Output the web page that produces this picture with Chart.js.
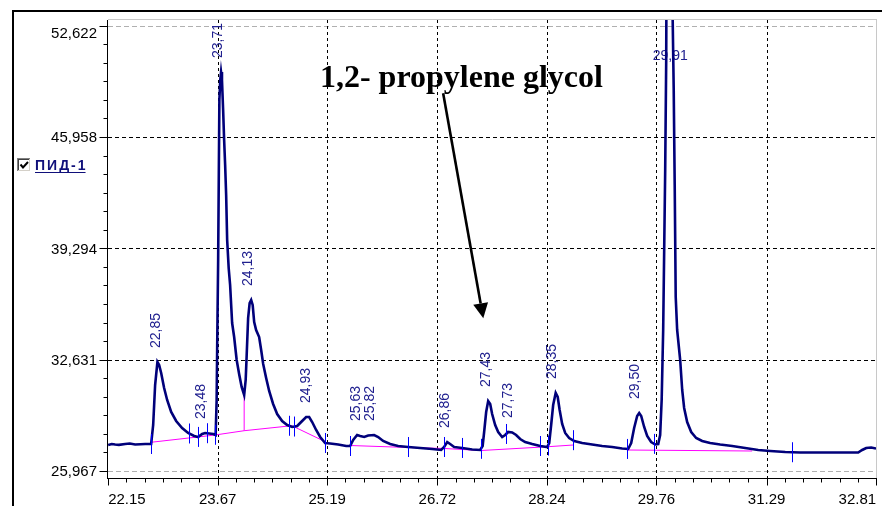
<!DOCTYPE html>
<html><head><meta charset="utf-8">
<script src="https://cdn.jsdelivr.net/npm/chart.js@4/dist/chart.umd.min.js"></script>
<style>html,body{margin:0;padding:0;background:#fff;overflow:hidden}#wrap{width:882px;height:506px;position:relative}</style>
</head><body><div id="wrap"><canvas id="c"></canvas></div>
<script>
// ---- data ----
const retentionTimes = [22.150,22.200,22.247,22.300,22.386,22.450,22.525,22.600,22.664,22.747,22.775,22.802,22.834,22.858,22.886,22.927,22.969,23.025,23.094,23.177,23.260,23.344,23.399,23.455,23.496,23.552,23.608,23.642,23.656,23.663,23.677,23.694,23.706,23.717,23.730,23.746,23.760,23.774,23.788,23.802,23.823,23.843,23.871,23.899,23.934,23.968,24.003,24.038,24.059,24.073,24.093,24.114,24.135,24.156,24.177,24.204,24.246,24.274,24.302,24.343,24.385,24.440,24.496,24.565,24.635,24.704,24.774,24.843,24.898,24.940,24.982,25.037,25.093,25.162,25.232,25.343,25.454,25.509,25.551,25.606,25.648,25.704,25.759,25.842,25.898,25.967,26.064,26.175,26.314,26.481,26.647,26.772,26.814,26.856,26.897,26.953,27.064,27.203,27.314,27.348,27.369,27.397,27.425,27.453,27.480,27.522,27.564,27.619,27.661,27.702,27.758,27.813,27.869,27.938,28.036,28.147,28.244,28.272,28.299,28.327,28.362,28.390,28.417,28.452,28.494,28.549,28.619,28.730,28.868,29.007,29.146,29.285,29.368,29.410,29.451,29.493,29.521,29.549,29.590,29.632,29.687,29.743,29.785,29.812,29.833,29.854,29.868,29.882,29.896,29.912,29.986,30.000,30.014,30.028,30.048,30.090,30.118,30.145,30.187,30.243,30.312,30.395,30.506,30.645,30.812,30.992,31.173,31.339,31.548,31.756,32.033,32.311,32.561,32.616,32.672,32.741,32.808];
const signal = [27.523,27.580,27.553,27.530,27.583,27.610,27.553,27.570,27.583,27.583,28.721,31.115,32.492,32.312,31.833,30.935,30.217,29.499,28.960,28.541,28.242,28.062,28.002,28.182,28.242,28.212,28.182,28.122,30.217,33.210,38.597,48.175,49.372,49.851,49.372,47.576,45.781,44.284,42.488,39.795,38.119,37.101,34.826,33.988,32.611,31.773,30.995,30.516,31.414,32.911,35.126,36.023,36.203,35.904,34.886,34.407,33.988,33.210,32.372,31.534,30.756,29.978,29.379,28.960,28.721,28.601,28.661,28.960,29.199,29.199,28.900,28.421,28.002,27.643,27.613,27.553,27.464,27.464,27.823,28.122,28.062,28.002,28.092,28.122,28.002,27.763,27.583,27.464,27.404,27.344,27.284,27.224,27.404,27.703,27.583,27.404,27.344,27.254,27.224,27.464,28.302,29.499,30.157,29.978,29.379,28.721,28.302,28.002,28.122,28.302,28.272,28.122,27.883,27.703,27.583,27.464,27.404,27.643,28.721,29.918,30.636,30.397,29.618,28.780,28.242,27.942,27.763,27.643,27.553,27.464,27.404,27.314,27.284,27.643,28.541,29.259,29.439,29.259,28.601,28.062,27.703,27.553,27.583,28.122,30.217,34.407,39.196,43.985,50.569,70.000,52.964,48.893,43.087,36.383,34.407,32.611,30.816,29.738,28.900,28.302,27.942,27.763,27.643,27.553,27.464,27.344,27.224,27.164,27.104,27.074,27.074,27.074,27.074,27.224,27.344,27.374,27.314];

// integration baseline (null = break)
const baselineTimes  = [22.743,23.635,24.038,24.700,25.162,25.163,25.509,26.314,26.814,27.328,28.258,28.605,28.606,29.354,31.089];
const baselineValues = [27.685,28.122,28.379,28.679,27.721,null,27.493,27.374,27.314,27.194,27.422,27.523,null,27.224,27.164];
const dropTimes  = [24.038,24.038];
const dropValues = [28.379,30.516];

const peakTimes   = [22.85,23.48,23.71,24.13,24.93,25.63,25.82,26.86,27.43,27.73,28.35,29.50,29.91];
const markerTimes = [22.743,23.274,23.395,23.520,23.635,24.662,24.736,25.162,25.509,26.318,26.814,27.060,27.324,27.675,28.147,28.254,28.600,29.358,29.729,31.649];

const xTicks = [22.15,23.67,25.19,26.72,28.24,29.76,31.29,32.81];
const yTicks = [25.967,32.631,39.294,45.958,52.622];
const xRange = [22.148,32.808];
const yRange = [25.548,52.964];

const legendLabel = 'ПИД-1';
const noteText = '1,2- propylene glycol';
const noteAt = [25.09,48.95];
const arrowFrom = [26.80,48.58];
const arrowTo = [27.357,35.11];

// ---- helpers ----
function curveAt(t){
  for(let i=1;i<retentionTimes.length;i++){
    if(retentionTimes[i]>=t){
      const t0=retentionTimes[i-1],t1=retentionTimes[i];
      const f=(t-t0)/(t1-t0);
      return signal[i-1]+f*(signal[i]-signal[i-1]);
    }
  }
  return signal[signal.length-1];
}
function localMax(t,w){
  let m=curveAt(t);
  for(let i=0;i<retentionTimes.length;i++) if(Math.abs(retentionTimes[i]-t)<=w) m=Math.max(m,signal[i]);
  return m;
}
const pts=(xs,ys)=>xs.map((v,i)=>({x:v,y:ys[i]}));
function line(ctx,x1,y1,x2,y2){ctx.beginPath();ctx.moveTo(x1,y1);ctx.lineTo(x2,y2);ctx.stroke();}

const chromPlugin={
  id:'chrom',
  beforeDatasetsDraw(chart){
    const {ctx,chartArea:a,scales:{x,y}}=chart;
    ctx.save();
    ctx.lineWidth=1;
    yTicks.forEach((v,i)=>{
      const py=Math.round(y.getPixelForValue(v))+0.5;
      const edge=(i===0||i===yTicks.length-1);
      ctx.strokeStyle=edge?'#b0b0b0':'#000';
      ctx.setLineDash(edge?[5,3]:[4,3]);
      line(ctx,a.left,py,a.right,py);
    });
    xTicks.forEach((v,i)=>{
      if(i===0||i===xTicks.length-1)return;
      const px=Math.round(x.getPixelForValue(v))+0.5;
      ctx.strokeStyle='#000';ctx.setLineDash([3,3]);
      line(ctx,px,a.top,px,a.bottom);
    });
    ctx.setLineDash([]);
    ctx.strokeStyle='#c8c8c8';
    line(ctx,a.left,a.top-0.5,a.right+1,a.top-0.5);
    line(ctx,a.right+0.5,a.top-0.5,a.right+0.5,a.bottom);
    ctx.fillStyle='#20208f';ctx.font='14px "Liberation Sans", Arial, sans-serif';
    peakTimes.forEach(t=>{
      const px=x.getPixelForValue(t);
      const m=localMax(t,0.04);
      const txt=t.toFixed(2).replace('.',',');
      if(m>y.max){
        ctx.textAlign='center';ctx.textBaseline='alphabetic';
        ctx.fillText(txt,px+3,a.top+40);
      }else{
        const py=y.getPixelForValue(m)-14;
        ctx.save();ctx.translate(px+1.5,py);ctx.rotate(-Math.PI/2);
        ctx.textAlign='left';ctx.textBaseline='alphabetic';
        ctx.fillText(txt,0,0);ctx.restore();
      }
    });
    ctx.restore();
  },
  afterDatasetsDraw(chart){
    const {ctx,chartArea:a,scales:{x,y}}=chart;
    ctx.save();
    ctx.strokeStyle='#0000ff';ctx.lineWidth=1;
    markerTimes.forEach(t=>{
      const px=Math.round(x.getPixelForValue(t))+0.5;
      const py=y.getPixelForValue(curveAt(t));
      line(ctx,px,py-10,px,py+10);
    });
    ctx.strokeStyle='#000';ctx.lineWidth=1;
    const ax=a.left-0.5, ay=a.bottom+0.5;
    line(ctx,ax,a.top,ax,a.bottom+1);
    line(ctx,a.left-1,ay,a.right+1,ay);
    const ySub=(yTicks[1]-yTicks[0])/6;
    for(let i=0;i<yTicks.length;i++){
      for(let k=0;k<6;k++){
        if(i===yTicks.length-1&&k>0)break;
        const v=yTicks[i]+k*ySub;
        const py=Math.round(y.getPixelForValue(v))+0.5;
        line(ctx,ax-(k===0?8:4),py,ax,py);
      }
    }
    const xSub=(xTicks[1]-xTicks[0])/6;
    for(let i=0;i<xTicks.length;i++){
      for(let k=0;k<6;k++){
        if(i===xTicks.length-1&&k>0)break;
        const v=xTicks[i]+k*xSub;
        const px=Math.round(x.getPixelForValue(v))+0.5;
        line(ctx,px,ay,px,ay+(k===0?7:4));
      }
    }
    ctx.fillStyle='#000';ctx.font='15px "Liberation Sans", Arial, sans-serif';
    ctx.textBaseline='alphabetic';
    xTicks.forEach((v,i)=>{
      const px=x.getPixelForValue(v);
      ctx.textAlign=i===0?'left':(i===xTicks.length-1?'right':'center');
      ctx.fillText(v.toFixed(2),px,a.bottom+26);
    });
    ctx.textAlign='right';ctx.textBaseline='middle';
    yTicks.forEach((v,i)=>{
      let py=y.getPixelForValue(v)+1;
      if(i===yTicks.length-1)py=Math.max(py,a.top+14);
      ctx.fillText(v.toFixed(3).replace('.',','),a.left-11,py);
    });
    ctx.restore();
  },
  afterDraw(chart){
    const {ctx,scales:{x,y}}=chart;
    ctx.save();
    ctx.strokeStyle='#000';ctx.lineWidth=2;
    ctx.beginPath();ctx.moveTo(13,506);ctx.lineTo(13,11);ctx.lineTo(882,11);ctx.stroke();
    const bx=17,by=158,bs=14;
    ctx.fillStyle='#fff';ctx.fillRect(bx,by,bs,bs);
    ctx.lineWidth=1;
    ctx.strokeStyle='#808080';line(ctx,bx+0.5,by+bs,bx+0.5,by+0.5);line(ctx,bx,by+0.5,bx+bs,by+0.5);
    ctx.strokeStyle='#404040';line(ctx,bx+1.5,by+bs-1,bx+1.5,by+1.5);line(ctx,bx+1,by+1.5,bx+bs-1,by+1.5);
    ctx.strokeStyle='#d4d0c8';line(ctx,bx+bs-1.5,by+1,bx+bs-1.5,by+bs-1);line(ctx,bx+1,by+bs-1.5,bx+bs-1,by+bs-1.5);
    ctx.strokeStyle='#fff';line(ctx,bx+bs-0.5,by,bx+bs-0.5,by+bs);line(ctx,bx,by+bs-0.5,bx+bs,by+bs-0.5);
    ctx.strokeStyle='#000';ctx.lineWidth=2;
    ctx.beginPath();ctx.moveTo(bx+3.5,by+6.5);ctx.lineTo(bx+6,by+9.5);ctx.lineTo(bx+11,by+4);ctx.stroke();
    ctx.fillStyle='#10107a';ctx.font='bold 14px "Liberation Sans", Arial, sans-serif';
    ctx.textAlign='left';ctx.textBaseline='alphabetic';
    try{ctx.letterSpacing='2px';}catch(e){}
    ctx.fillText(legendLabel,35,170);
    const lw=ctx.measureText(legendLabel).width;
    try{ctx.letterSpacing='0px';}catch(e){}
    ctx.strokeStyle='#10107a';ctx.lineWidth=1;
    line(ctx,35,172.5,35+lw-2,172.5);
    ctx.fillStyle='#000';
    ctx.font='bold 30px "Liberation Serif", "Times New Roman", serif';
    const w30=ctx.measureText(noteText).width;
    const fs=30*283/w30;
    ctx.font='bold '+fs.toFixed(2)+'px "Liberation Serif", "Times New Roman", serif';
    ctx.fillText(noteText,x.getPixelForValue(noteAt[0]),y.getPixelForValue(noteAt[1]));
    const x1=x.getPixelForValue(arrowFrom[0]),y1=y.getPixelForValue(arrowFrom[1]);
    const x2=x.getPixelForValue(arrowTo[0]),y2=y.getPixelForValue(arrowTo[1]);
    const ang=Math.atan2(y2-y1,x2-x1);
    const hl=15,hw=7.5;
    const bxp=x2-hl*Math.cos(ang),byp=y2-hl*Math.sin(ang);
    ctx.strokeStyle='#000';ctx.lineWidth=2.6;
    line(ctx,x1,y1,bxp,byp);
    ctx.beginPath();
    ctx.moveTo(x2,y2);
    ctx.lineTo(bxp+hw*Math.sin(ang),byp-hw*Math.cos(ang));
    ctx.lineTo(bxp-hw*Math.sin(ang),byp+hw*Math.cos(ang));
    ctx.closePath();ctx.fill();
    ctx.restore();
  }
};

new Chart(document.getElementById('c'),{
  type:'line',
  data:{datasets:[
    {label:'ПИД-1',data:pts(retentionTimes,signal),borderColor:'#00007a',borderWidth:2.6,pointRadius:0,tension:0,fill:false},
    {label:'baseline',data:pts(baselineTimes,baselineValues),borderColor:'#ff00ff',borderWidth:1,pointRadius:0,tension:0,spanGaps:false,fill:false},
    {label:'drop',data:pts(dropTimes,dropValues),borderColor:'#ff00ff',borderWidth:1,pointRadius:0,tension:0,fill:false}
  ]},
  options:{
    responsive:true,maintainAspectRatio:false,animation:false,devicePixelRatio:1,
    layout:{padding:{left:108,right:6,top:20,bottom:28}},
    plugins:{legend:{display:false},tooltip:{enabled:false}},
    events:[],
    scales:{
      x:{type:'linear',min:xRange[0],max:xRange[1],display:false},
      y:{type:'linear',min:yRange[0],max:yRange[1],display:false}
    }
  },
  plugins:[chromPlugin]
});
</script>
</body></html>
